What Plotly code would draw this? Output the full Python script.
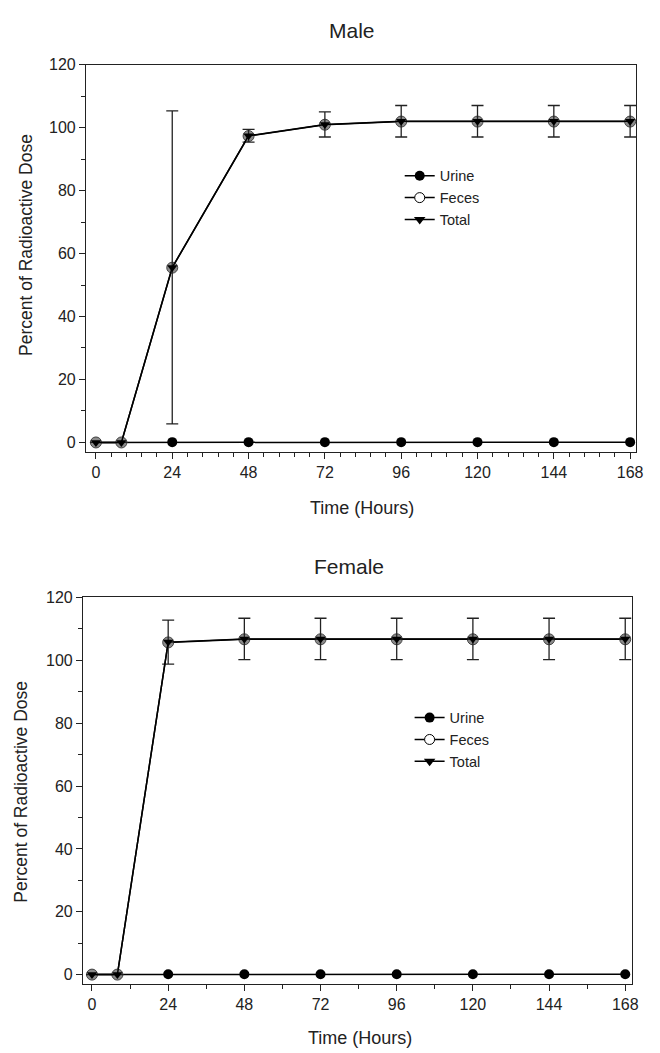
import plotly.graph_objects as go

hours = [0, 8, 24, 48, 72, 96, 120, 144, 168]
x_ticks = [0, 24, 48, 72, 96, 120, 144, 168]

male_urine = [0, 0, 0.1, 0.1, 0.1, 0.1, 0.1, 0.1, 0.1]
male_feces = [0, 0, 55.5, 97.3, 100.9, 101.9, 101.9, 101.9, 101.9]
male_total = [0, 0, 55.6, 97.4, 101.0, 102.0, 102.0, 102.0, 102.0]
male_total_err = [0, 0, 49.7, 2.0, 4.0, 5.0, 5.0, 5.0, 5.0]

female_urine = [0, 0, 0.1, 0.1, 0.1, 0.1, 0.1, 0.1, 0.1]
female_feces = [0, 0, 105.7, 106.7, 106.7, 106.7, 106.7, 106.7, 106.7]
female_total = [0, 0, 105.8, 106.8, 106.8, 106.8, 106.8, 106.8, 106.8]
female_total_err = [0, 0, 7.0, 6.6, 6.6, 6.6, 6.6, 6.6, 6.6]

FONT = "Liberation Sans, Arial, sans-serif"
W, H = 660, 1053

fig = go.Figure()

def add_panel(ax, urine, feces, total, err):
    xa = "x" if ax == 1 else "x2"
    ya = "y" if ax == 1 else "y2"
    lg = "legend" if ax == 1 else "legend2"
    fig.add_trace(go.Scatter(x=hours, y=urine, mode="lines+markers", xaxis=xa, yaxis=ya,
                             line=dict(color="black", width=1.5),
                             marker=dict(symbol="circle", size=10, color="black"),
                             showlegend=False))
    fig.add_trace(go.Scatter(x=hours, y=feces, mode="lines+markers", xaxis=xa, yaxis=ya,
                             line=dict(color="black", width=1.5),
                             marker=dict(symbol="circle", size=11, color="#8a8a8a",
                                         line=dict(color="#444", width=1)),
                             showlegend=False))
    fig.add_trace(go.Scatter(x=hours, y=total, mode="lines+markers", xaxis=xa, yaxis=ya,
                             line=dict(color="black", width=1.5),
                             marker=dict(symbol="triangle-down", size=9, color="black"),
                             error_y=dict(type="data", array=err, visible=True,
                                          color="#222", thickness=1.3, width=6),
                             showlegend=False))
    # legend-only entries
    fig.add_trace(go.Scatter(x=[None], y=[None], mode="lines+markers", xaxis=xa, yaxis=ya,
                             name="Urine", legend=lg,
                             line=dict(color="black", width=1.5),
                             marker=dict(symbol="circle", size=10, color="black")))
    fig.add_trace(go.Scatter(x=[None], y=[None], mode="lines+markers", xaxis=xa, yaxis=ya,
                             name="Feces", legend=lg,
                             line=dict(color="black", width=1.5),
                             marker=dict(symbol="circle", size=10, color="white",
                                         line=dict(color="black", width=1))))
    fig.add_trace(go.Scatter(x=[None], y=[None], mode="lines+markers", xaxis=xa, yaxis=ya,
                             name="Total", legend=lg,
                             line=dict(color="black", width=1.5),
                             marker=dict(symbol="triangle-down", size=10, color="black")))

add_panel(1, male_urine, male_feces, male_total, male_total_err)
add_panel(2, female_urine, female_feces, female_total, female_total_err)

def px_x(p):
    return p / W

def px_y(p):
    return 1 - p / H

axis_common = dict(showgrid=False, zeroline=False, showline=True, linecolor="#222",
                   linewidth=1.3, mirror=True, ticks="outside", tickcolor="#222",
                   tickwidth=1, tickfont=dict(family=FONT, size=16, color="#222"))

fig.update_layout(
    width=W, height=H, margin=dict(l=0, r=0, t=0, b=0),
    paper_bgcolor="white", plot_bgcolor="white",
    font=dict(family=FONT, color="#222"),
    xaxis=dict(domain=[px_x(87), px_x(643)], anchor="y", range=[-3.1, 169.9],
               tickvals=x_ticks, ticklen=6,
               minor=dict(tick0=0, dtick=4.8, ticks="outside", ticklen=4, tickcolor="#222"),
               **axis_common),
    yaxis=dict(domain=[px_y(447), px_y(57)], anchor="x", range=[-2.9, 120],
               tickvals=[0, 20, 40, 60, 80, 100, 120], ticklen=6,
               minor=dict(tick0=0, dtick=10, ticks="outside", ticklen=4, tickcolor="#222"),
               **axis_common),
    xaxis2=dict(domain=[px_x(84), px_x(639)], anchor="y2", range=[-2.8, 170.2],
                tickvals=x_ticks, ticklen=6,
                minor=dict(tick0=0, dtick=12, ticks="outside", ticklen=4, tickcolor="#222"),
                **axis_common),
    yaxis2=dict(domain=[px_y(983), px_y(594)], anchor="x2", range=[-2.84, 120],
                tickvals=[0, 20, 40, 60, 80, 100, 120], ticklen=6,
                minor=dict(tick0=0, dtick=10, ticks="outside", ticklen=4, tickcolor="#222"),
                **axis_common),
    legend=dict(x=px_x(404), y=px_y(153), xanchor="left", yanchor="top",
                bgcolor="rgba(0,0,0,0)", font=dict(family=FONT, size=14.5, color="#222"),
                tracegroupgap=0, itemwidth=30),
    legend2=dict(x=px_x(414), y=px_y(699), xanchor="left", yanchor="top",
                 bgcolor="rgba(0,0,0,0)", font=dict(family=FONT, size=14.5, color="#222"),
                 tracegroupgap=0, itemwidth=30),
)

annots = [
    dict(text="Male", x=px_x(356), y=px_y(22.5), size=21),
    dict(text="Female", x=px_x(353), y=px_y(562.5), size=21),
    dict(text="Time (Hours)", x=px_x(366), y=px_y(504), size=18),
    dict(text="Time (Hours)", x=px_x(363.5), y=px_y(1038), size=18),
]
for a in annots:
    fig.add_annotation(text=a["text"], x=a["x"], y=a["y"], xref="paper", yref="paper",
                       showarrow=False, xanchor="center", yanchor="middle",
                       font=dict(family=FONT, size=a["size"], color="#222"))
fig.add_annotation(text="Percent of Radioactive Dose", x=px_x(25.5), y=px_y(238.5),
                   xref="paper", yref="paper", showarrow=False, textangle=-90,
                   xanchor="center", yanchor="middle",
                   font=dict(family=FONT, size=17.5, color="#222"))
fig.add_annotation(text="Percent of Radioactive Dose", x=px_x(21), y=px_y(790),
                   xref="paper", yref="paper", showarrow=False, textangle=-90,
                   xanchor="center", yanchor="middle",
                   font=dict(family=FONT, size=17.5, color="#222"))

fig.write_html("out.html", config={"displayModeBar": False},
               post_script="document.body.style.margin='0';document.body.style.overflow='hidden';")
